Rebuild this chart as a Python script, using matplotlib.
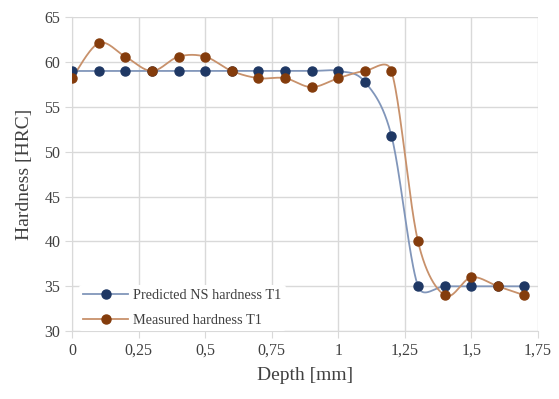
import numpy as np
import matplotlib.pyplot as plt
from matplotlib.lines import Line2D

# Data
depth = [0, 0.1, 0.2, 0.3, 0.4, 0.5, 0.6, 0.7, 0.8, 0.9,
         1.0, 1.1, 1.2, 1.3, 1.4, 1.5, 1.6, 1.7]
predicted = [59, 59, 59, 59, 59, 59, 59, 59, 59, 59,
             59, 57.8, 51.8, 35, 35, 35, 35, 35]
measured = [58.2, 62.1, 60.6, 59, 60.6, 60.6, 59, 58.2, 58.2, 57.2,
            58.2, 59, 59, 40, 34, 36, 35, 34]

x_ticks = [0, 0.25, 0.5, 0.75, 1, 1.25, 1.5, 1.75]
x_tick_labels = ["0", "0,25", "0,5", "0,75", "1", "1,25", "1,5", "1,75"]
y_ticks = [30, 35, 40, 45, 50, 55, 60, 65]

# pixel scale of the axes, so the smoothing works in screen space like Excel
SX = 466 / 1.75
SY = 314 / 35


def smooth(xs, ys, clamp=0.55, n=40):
    # Excel-like smoothed line: Catmull-Rom Bezier, handles limited by segment length
    p = np.column_stack([np.asarray(xs, float) * SX, np.asarray(ys, float) * SY])
    m = len(p)
    tang = np.array([(p[min(i + 1, m - 1)] - p[max(i - 1, 0)]) / 6 for i in range(m)])
    t = np.linspace(0, 1, n)[:, None]
    out = []
    for i in range(m - 1):
        L = np.hypot(*(p[i + 1] - p[i]))
        h1, h2 = tang[i], tang[i + 1]
        for h in (h1, h2):
            pass
        n1, n2 = np.hypot(*h1), np.hypot(*h2)
        if n1 > clamp * L:
            h1 = h1 * clamp * L / n1
        if n2 > clamp * L:
            h2 = h2 * clamp * L / n2
        c1 = p[i] + h1
        c2 = p[i + 1] - h2
        seg = ((1 - t) ** 3) * p[i] + 3 * t * (1 - t) ** 2 * c1 \
            + 3 * t ** 2 * (1 - t) * c2 + t ** 3 * p[i + 1]
        out.append(seg)
    out = np.vstack(out)
    return out[:, 0] / SX, out[:, 1] / SY


plt.rcParams["font.family"] = ["Liberation Serif", "DejaVu Serif"]

fig = plt.figure(figsize=(5.59, 3.99), dpi=100)
ax = fig.add_axes([0.129, 0.170, 0.833, 0.787])

blue_line, blue_mark = "#8196BA", "#1F3864"
brown_line, brown_mark = "#C8916B", "#843C0C"

sx, sy = smooth(depth, predicted)
ax.plot(sx, sy, color=blue_line, lw=1.3, zorder=3)
ax.plot(depth, predicted, "o", color=blue_mark, ms=6.5, zorder=4)

sx, sy = smooth(depth, measured)
ax.plot(sx, sy, color=brown_line, lw=1.3, zorder=3)
ax.plot(depth, measured, "o", color=brown_mark, ms=6.5, zorder=4)

ax.set_xlim(0, 1.75)
ax.set_ylim(30, 65)
ax.set_xticks(x_ticks)
ax.set_xticklabels(x_tick_labels)
ax.set_yticks(y_ticks)
ax.grid(True, color="#D9D9D9", lw=1)
ax.set_axisbelow(True)
for side in ["top", "right"]:
    ax.spines[side].set_visible(False)
for side in ["left", "bottom"]:
    ax.spines[side].set_color("#D9D9D9")
ax.tick_params(colors="#D9D9D9", labelcolor="#404040", labelsize=11.5, length=5)

ax.set_xlabel("Depth [mm]", fontsize=14, color="#404040", labelpad=6)
ax.set_ylabel("Hardness [HRC]", fontsize=14, color="#404040", labelpad=8)

handles = [
    Line2D([], [], color=blue_line, lw=1.3, marker="o", mfc=blue_mark, mec=blue_mark, ms=6.5),
    Line2D([], [], color=brown_line, lw=1.3, marker="o", mfc=brown_mark, mec=brown_mark, ms=6.5),
]
leg = ax.legend(handles, ["Predicted NS hardness T1", "Measured hardness T1"],
                loc="lower left", bbox_to_anchor=(0.015, 0.0), borderaxespad=0,
                frameon=True, fontsize=10.3, handlelength=3.1, labelspacing=0.8,
                borderpad=0.3, handletextpad=0.4)
leg.get_frame().set_edgecolor("none")
leg.get_frame().set_facecolor("white")
leg.get_frame().set_alpha(1)
for t in leg.get_texts():
    t.set_color("#404040")

fig.savefig("out.png", dpi=100)
